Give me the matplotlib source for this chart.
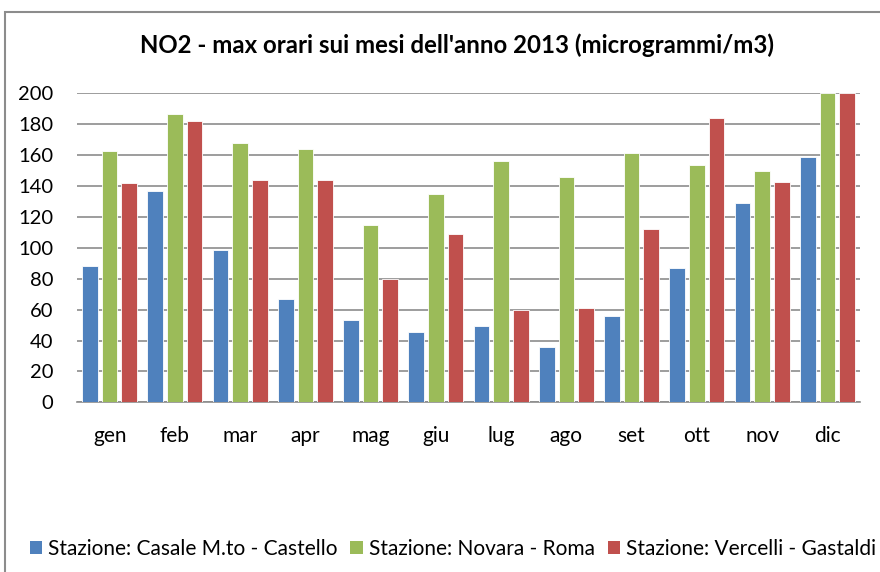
import matplotlib
matplotlib.use("Agg")
import matplotlib.pyplot as plt
import numpy as np
from matplotlib.patches import Rectangle, Patch

plt.rcParams['font.family'] = ['Lato', 'DejaVu Sans']

months = ["gen", "feb", "mar", "apr", "mag", "giu", "lug", "ago", "set", "ott", "nov", "dic"]
casale = [88.5, 137, 98.6, 66.7, 53, 45.7, 49.4, 35.6, 55.9, 86.9, 128.8, 159]
novara = [162.7, 186.6, 167.9, 164.2, 114.6, 134.6, 156.2, 146, 161.2, 153.8, 149.9, 200]
vercelli = [141.7, 182.3, 144.1, 144.1, 80, 109, 59.8, 60.8, 112.4, 184.2, 142.4, 200]
series_names = ["Stazione: Casale M.to - Castello", "Stazione: Novara - Roma", "Stazione: Vercelli - Gastaldi"]
colors = ["#4F81BD", "#9BBB59", "#C0504D"]
title = "NO2 - max orari sui mesi dell'anno 2013 (microgrammi/m3)"
yticks = list(range(0, 201, 20))

W, H = 880, 572
fig = plt.figure(figsize=(W / 100, H / 100), dpi=100)

# chart frame (extends beyond right and bottom edges)
fig.patches.append(Rectangle((5 / W, -0.1), 1.2, 1 - 12 / H + 0.1, transform=fig.transFigure,
                             fill=False, edgecolor="#8c8c8c", linewidth=1.5))

ax = fig.add_axes([77 / W, 1 - 402.3 / H, (860 - 77) / W, (402.3 - 93.3) / H])
x = np.arange(len(months))
bw = 0.24
step = 0.30
for i, (vals, c, n) in enumerate(zip([casale, novara, vercelli], colors, series_names)):
    ax.bar(x + (i - 1) * step, vals, width=bw, color=c, edgecolor="white", linewidth=0.6,
           label=n, zorder=3)

ax.set_xlim(-0.5, len(months) - 0.5)
ax.set_ylim(0, 200)
ax.set_yticks(yticks)
ax.set_xticks(x)
ax.set_xticklabels(months)
ax.yaxis.grid(True, color="#8c8c8c", linewidth=1.2, zorder=0)
ax.set_axisbelow(True)
for s in ["top", "right", "left"]:
    ax.spines[s].set_visible(False)
ax.spines["bottom"].set_color("#8c8c8c")
ax.spines["bottom"].set_linewidth(1.2)
ax.tick_params(axis="y", length=0, pad=17, labelsize=14.5)
ax.tick_params(axis="x", length=0, pad=17, labelsize=15)

fig.text(457 / W, 1 - 45 / H, title, ha="center", va="center", fontsize=17.3, fontweight="bold")

handles = [Patch(facecolor=c, edgecolor="none") for c in colors]
fig.legend(handles, series_names, loc="center", bbox_to_anchor=(453 / W, 1 - 549 / H),
           ncol=3, frameon=False, fontsize=15, handlelength=0.6, handleheight=0.6,
           handletextpad=0.3, columnspacing=0.6)

fig.savefig("out.png", dpi=100)
